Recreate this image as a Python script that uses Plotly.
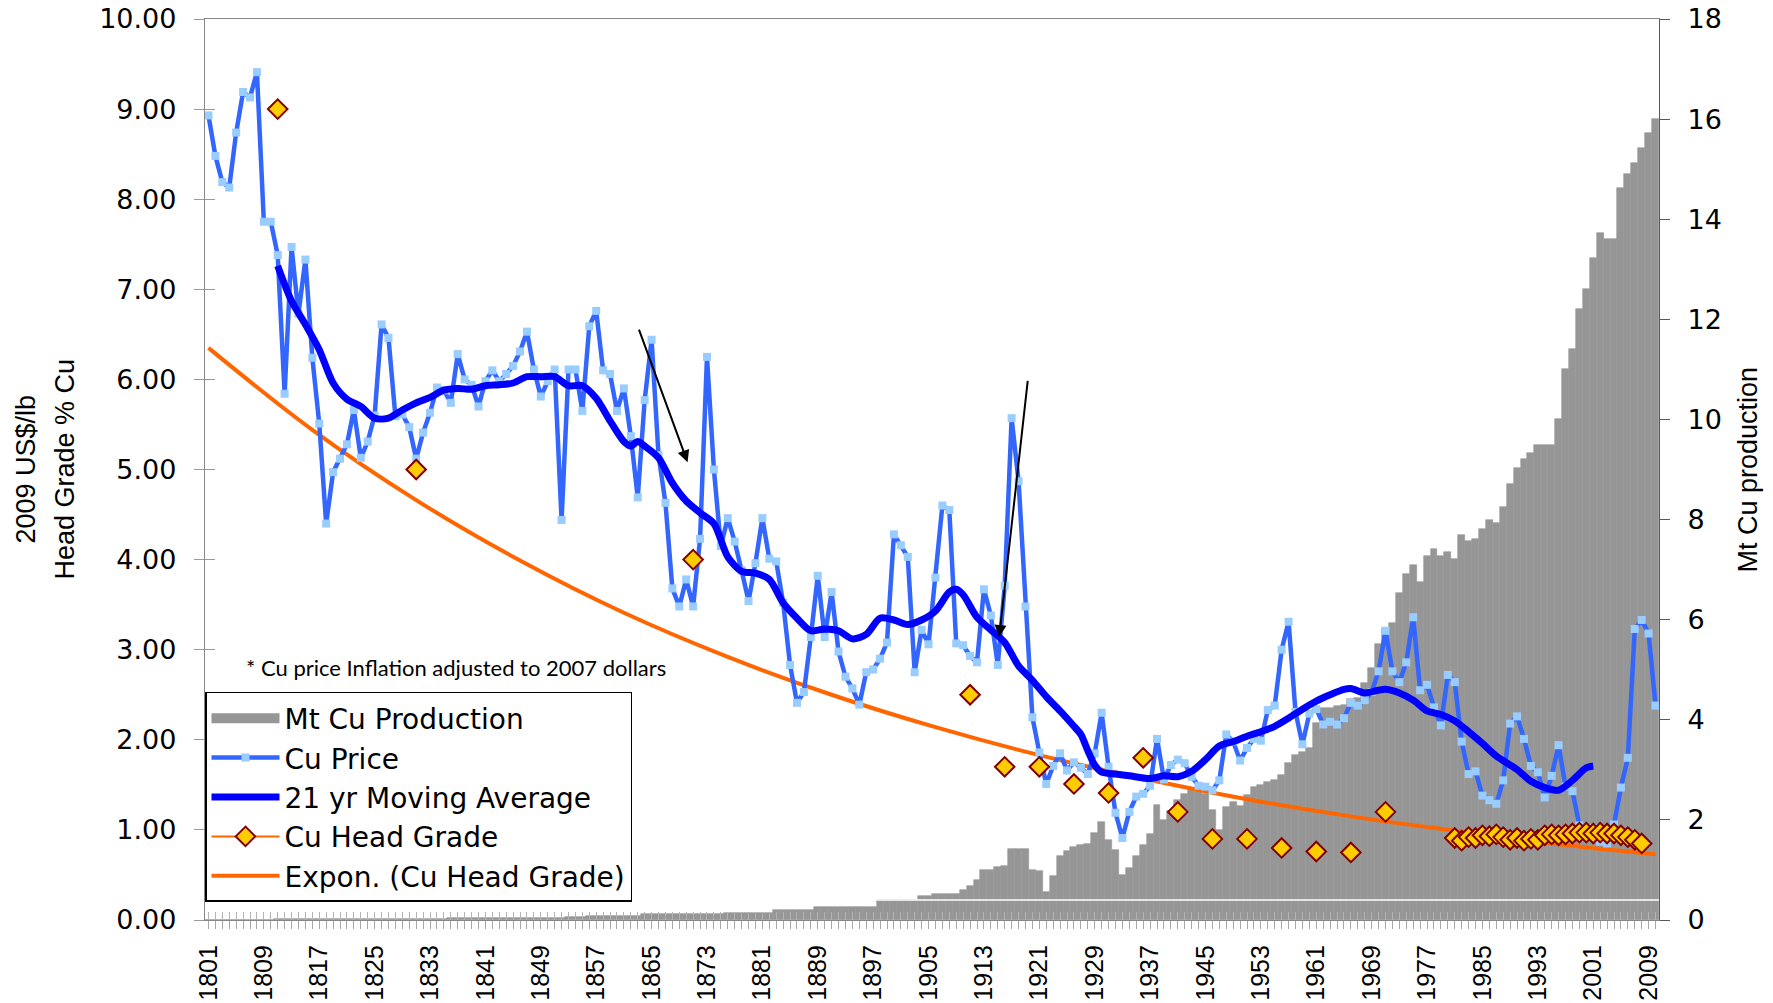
import plotly.graph_objects as go

# ---------------- data ----------------
years = list(range(1801, 2011))

production_mt = [
    0.010, 0.010, 0.010, 0.010, 0.010, 0.010, 0.010, 0.010, 0.010, 0.010,   # 1801-1810
    0.012, 0.012, 0.012, 0.012, 0.012, 0.012, 0.012, 0.012, 0.012, 0.012,   # 1811-1820
    0.020, 0.020, 0.020, 0.020, 0.020, 0.020, 0.020, 0.020, 0.020, 0.020,   # 1821-1830
    0.020, 0.020, 0.020, 0.020, 0.020, 0.045, 0.045, 0.045, 0.045, 0.045,   # 1831-1840
    0.045, 0.045, 0.045, 0.045, 0.045, 0.045, 0.045, 0.045, 0.045, 0.045,   # 1841-1850
    0.045, 0.045, 0.067, 0.067, 0.067, 0.087, 0.087, 0.087, 0.087, 0.087,   # 1851-1860
    0.087, 0.087, 0.087, 0.120, 0.120, 0.120, 0.120, 0.120, 0.120, 0.120,   # 1861-1870
    0.120, 0.120, 0.120, 0.120, 0.120, 0.147, 0.147, 0.147, 0.147, 0.147,   # 1871-1880
    0.147, 0.147, 0.190, 0.190, 0.190, 0.190, 0.190, 0.190, 0.250, 0.250,   # 1881-1890
    0.250, 0.250, 0.250, 0.250, 0.250, 0.250, 0.250, 0.400, 0.400, 0.400,   # 1891-1900
    0.400, 0.400, 0.400, 0.480, 0.480, 0.520, 0.520, 0.520, 0.520, 0.600,   # 1901-1910
    0.670, 0.800, 0.990, 0.990, 1.050, 1.070, 1.420, 1.420, 1.420, 0.990,   # 1911-1920
    0.970, 0.550, 0.880, 1.270, 1.370, 1.450, 1.500, 1.520, 1.730, 1.950,   # 1921-1930
    1.600, 1.400, 0.900, 1.030, 1.280, 1.500, 1.720, 2.300, 2.000, 2.180,   # 1931-1940
    2.400, 2.520, 2.600, 2.650, 2.520, 2.200, 1.800, 2.250, 2.350, 2.280,   # 1941-1950
    2.500, 2.650, 2.700, 2.750, 2.800, 2.900, 3.130, 3.300, 3.350, 3.430,   # 1951-1960
    3.930, 4.230, 4.230, 4.270, 4.300, 4.410, 4.430, 4.730, 5.030, 5.520,   # 1961-1970
    5.830, 5.930, 6.530, 6.920, 7.100, 6.750, 7.270, 7.410, 7.280, 7.350,   # 1971-1980
    7.210, 7.700, 7.580, 7.610, 7.810, 8.000, 7.930, 8.250, 8.720, 9.030,   # 1981-1990
    9.200, 9.330, 9.480, 9.490, 9.490, 10.00, 11.00, 11.40, 12.20, 12.60,   # 1991-2000
    13.22, 13.72, 13.60, 13.60, 14.62, 14.91, 15.12, 15.42, 15.72, 16.01,   # 2001-2010
]

cu_price = [
    8.93, 8.48, 8.19, 8.13, 8.74, 9.19, 9.13, 9.41, 7.75, 7.75,   # 1801-1810
    7.38, 5.84, 7.47, 6.73, 7.33, 6.24, 5.51, 4.40, 4.97, 5.12,   # 1811-1820
    5.28, 5.66, 5.13, 5.31, 5.60, 6.61, 6.46, 5.59, 5.61, 5.47,   # 1821-1830
    5.12, 5.41, 5.63, 5.91, 5.88, 5.74, 6.28, 6.00, 5.94, 5.70,   # 1831-1840
    5.98, 6.10, 5.98, 6.06, 6.15, 6.31, 6.53, 6.11, 5.81, 5.98,   # 1841-1850
    6.11, 4.44, 6.11, 6.11, 5.65, 6.59, 6.76, 6.10, 6.06, 5.65,   # 1851-1860
    5.90, 5.37, 4.69, 5.77, 6.44, 5.16, 4.63, 3.68, 3.48, 3.78,   # 1861-1870
    3.48, 4.23, 6.25, 5.00, 4.15, 4.46, 4.20, 3.88, 3.54, 3.96,   # 1871-1880
    4.46, 4.01, 3.98, 3.52, 2.83, 2.41, 2.53, 3.14, 3.82, 3.14,   # 1881-1890
    3.64, 2.98, 2.70, 2.57, 2.39, 2.75, 2.78, 2.90, 3.08, 4.28,   # 1891-1900
    4.16, 4.03, 2.75, 3.22, 3.06, 3.80, 4.60, 4.55, 3.07, 3.05,   # 1901-1910
    2.93, 2.86, 3.67, 3.38, 2.83, 3.71, 5.57, 4.87, 3.48, 2.25,   # 1911-1920
    1.86, 1.51, 1.71, 1.85, 1.66, 1.75, 1.69, 1.62, 1.85, 2.30,   # 1921-1930
    1.70, 1.19, 0.91, 1.20, 1.37, 1.40, 1.49, 2.01, 1.56, 1.72,   # 1931-1940
    1.78, 1.74, 1.59, 1.49, 1.48, 1.44, 1.55, 2.06, 1.98, 1.77,   # 1941-1950
    1.91, 2.01, 1.99, 2.33, 2.38, 3.00, 3.31, 2.31, 1.95, 2.29,   # 1951-1960
    2.34, 2.17, 2.20, 2.17, 2.24, 2.41, 2.38, 2.44, 2.53, 2.76,   # 1961-1970
    3.21, 2.76, 2.64, 2.86, 3.36, 2.55, 2.61, 2.36, 2.16, 2.72,   # 1971-1980
    2.64, 1.98, 1.62, 1.65, 1.38, 1.33, 1.29, 1.55, 2.18, 2.26,   # 1981-1990
    2.01, 1.71, 1.64, 1.36, 1.60, 1.94, 1.48, 1.43, 1.05, 1.02,   # 1991-2000
    1.02, 0.87, 0.85, 1.06, 1.47, 1.80, 3.23, 3.33, 3.18, 2.38,   # 2001-2010
]

ma_years = [1811, 1813, 1815, 1817, 1819, 1821, 1823, 1825, 1827, 1829,
            1831, 1833, 1835, 1837, 1839, 1841, 1843, 1845, 1847, 1849,
            1851, 1853, 1855, 1857, 1859, 1861, 1862, 1863, 1864, 1866,
            1868, 1870, 1872, 1874, 1876, 1878, 1880, 1882, 1884, 1886,
            1888, 1890, 1892, 1894, 1896, 1898, 1900, 1902, 1904, 1906,
            1908, 1909, 1910, 1912, 1914, 1916, 1918, 1920, 1922, 1924,
            1926, 1927, 1928, 1929, 1930, 1932, 1934, 1937, 1939, 1941,
            1943, 1945, 1947, 1949, 1951, 1953, 1955, 1957, 1959, 1961,
            1963, 1965, 1966, 1968, 1970, 1971, 1973, 1975, 1977, 1979,
            1981, 1983, 1985, 1987, 1990, 1992, 1994, 1996, 1998, 2000, 2001]
ma_values = [7.26, 6.87, 6.61, 6.33, 5.96, 5.78, 5.70, 5.57, 5.57, 5.66,
             5.74, 5.80, 5.88, 5.90, 5.89, 5.93, 5.94, 5.96, 6.03, 6.03,
             6.03, 5.93, 5.93, 5.79, 5.54, 5.31, 5.26, 5.31, 5.26, 5.13,
             4.85, 4.65, 4.52, 4.40, 4.03, 3.87, 3.85, 3.78, 3.52, 3.35,
             3.21, 3.23, 3.21, 3.12, 3.17, 3.35, 3.33, 3.28, 3.33, 3.43,
             3.64, 3.67, 3.61, 3.36, 3.22, 3.08, 2.82, 2.66, 2.48, 2.32,
             2.15, 2.06, 1.88, 1.72, 1.64, 1.62, 1.60, 1.57, 1.60, 1.59,
             1.65, 1.78, 1.93, 1.98, 2.04, 2.09, 2.15, 2.24, 2.34, 2.43,
             2.50, 2.56, 2.57, 2.52, 2.55, 2.56, 2.52, 2.44, 2.32, 2.28,
             2.21, 2.09, 1.96, 1.82, 1.67, 1.54, 1.47, 1.44, 1.55, 1.69, 1.71]

grade_years = [1811, 1831, 1871, 1911, 1916, 1921, 1926, 1931, 1936, 1941,
               1946, 1951, 1956, 1961, 1966, 1971,
               1981, 1982, 1983, 1984, 1985, 1986, 1987, 1988, 1989, 1990,
               1991, 1992, 1993, 1994, 1995, 1996, 1997, 1998, 1999, 2000,
               2001, 2002, 2003, 2004, 2005, 2006, 2007, 2008]
grade_values = [9.00, 5.00, 4.00, 2.50, 1.70, 1.70, 1.51, 1.41, 1.80, 1.20,
                0.90, 0.90, 0.80, 0.76, 0.75, 1.20,
                0.91, 0.88, 0.92, 0.91, 0.94, 0.93, 0.95, 0.92, 0.89, 0.91,
                0.88, 0.90, 0.89, 0.94, 0.95, 0.94, 0.95, 0.96, 0.97, 0.97,
                0.96, 0.97, 0.96, 0.96, 0.94, 0.92, 0.89, 0.85]

trend_years = [1801, 1816, 1831, 1846, 1861, 1876, 1891, 1906,
               1921, 1936, 1951, 1966, 1981, 1996, 2010]
trend_values = [6.35, 5.44, 4.66, 3.99, 3.41, 2.92, 2.50, 2.14,
                1.83, 1.57, 1.34, 1.15, 0.99, 0.84, 0.73]

# ---------------- styles ----------------
GRAY_BAR = "#969696"
PRICE_LINE = "#3366FF"
PRICE_MARK = "#99CCFF"
MA_LINE = "#0000FF"
ORANGE = "#FF6600"
DIAMOND_FILL = "#FFCC00"
DIAMOND_EDGE = "#800000"
AXIS_GRAY = "#868686"
TICK_FONT = dict(family="DejaVu Sans", size=27, color="black")
TITLE_FONT = dict(family="Liberation Sans, Arial, sans-serif", size=27, color="black")

fig = go.Figure()

# production bars (main subplot, right-hand axis) -> drawn underneath
fig.add_trace(go.Bar(
    x=years, y=production_mt, name="Mt Cu Production", xaxis="x", yaxis="y",
    marker=dict(color=GRAY_BAR, line=dict(color=GRAY_BAR, width=0.6)),
    showlegend=False, hoverinfo="x+y"))

# legend entry for bars (wide grey swatch)
fig.add_trace(go.Scatter(
    x=[None], y=[None], mode="lines", name="Mt Cu Production", yaxis="y2",
    line=dict(color=GRAY_BAR, width=16), legendrank=1, hoverinfo="skip"))

# exponential trend of head grade
fig.add_trace(go.Scatter(
    x=trend_years, y=trend_values, mode="lines", name="Expon. (Cu Head Grade)",
    yaxis="y2", line=dict(color=ORANGE, width=4, shape="spline", smoothing=1.0),
    legendrank=5))

# copper price
fig.add_trace(go.Scatter(
    x=years, y=cu_price, mode="lines+markers", name="Cu Price", yaxis="y2",
    line=dict(color=PRICE_LINE, width=4.5),
    marker=dict(symbol="square", size=8, color=PRICE_MARK, line=dict(width=0)),
    legendrank=2))

# 21 year moving average
fig.add_trace(go.Scatter(
    x=ma_years, y=ma_values, mode="lines", name="21 yr Moving Average", yaxis="y2",
    line=dict(color=MA_LINE, width=7, shape="spline", smoothing=0.8),
    legendrank=3))

# head grade points
fig.add_trace(go.Scatter(
    x=grade_years, y=grade_values, mode="markers", name="Cu Head Grade", yaxis="y2",
    marker=dict(symbol="diamond", size=15, color=DIAMOND_FILL,
                line=dict(color=DIAMOND_EDGE, width=2)),
    showlegend=False))
fig.add_trace(go.Scatter(
    x=[None], y=[None], mode="lines+markers", name="Cu Head Grade", yaxis="y2",
    line=dict(color=ORANGE, width=2),
    marker=dict(symbol="diamond", size=15, color=DIAMOND_FILL,
                line=dict(color=DIAMOND_EDGE, width=2)),
    legendrank=4, hoverinfo="skip"))

# helper (empty) traces so the tick-only overlay axes are drawn
fig.add_trace(go.Scatter(x=[None], y=[None], xaxis="x2", yaxis="y",
                         showlegend=False, hoverinfo="skip"))
fig.add_trace(go.Scatter(x=[None], y=[None], xaxis="x", yaxis="y3",
                         showlegend=False, hoverinfo="skip"))

XRANGE = [1800.5, 2010.5]

fig.update_layout(
    width=1773, height=1003,
    margin=dict(l=205, r=114, t=19, b=83, pad=0),
    paper_bgcolor="white", plot_bgcolor="white",
    font=dict(family="Liberation Sans, Arial, sans-serif", size=26, color="black"),
    bargap=0, barmode="overlay",
    showlegend=True,
    legend=dict(x=0, y=0.02, xanchor="left", yanchor="bottom",
                bgcolor="white", bordercolor="black", borderwidth=1.5,
                font=dict(family="DejaVu Sans", size=28, color="black"),
                itemwidth=68, traceorder="normal", tracegroupgap=0),
    xaxis=dict(type="linear", range=XRANGE, tick0=1801, dtick=8,
               ticks="outside", ticklen=8, tickwidth=1, tickcolor="#a8a8a8",
               tickangle=-90, tickfont=dict(family="Liberation Sans, Arial", size=25, color="black"),
               ticklabelstandoff=6,
               minor=dict(tick0=1801, dtick=1, ticks="outside", ticklen=8,
                          tickwidth=1, tickcolor="#a8a8a8", showgrid=False),
               showline=True, linecolor=AXIS_GRAY, linewidth=1.3, mirror=True,
               showgrid=False, zeroline=False, automargin=False),
    xaxis2=dict(type="linear", range=XRANGE, overlaying="x", anchor="y", side="bottom",
                tick0=1801, dtick=1, ticks="inside", ticklen=8, tickwidth=1,
                tickcolor="#b4b4b4", showticklabels=False, showline=False,
                showgrid=False, zeroline=False, automargin=False),
    yaxis=dict(range=[0, 18], dtick=2, side="right", anchor="x",
               ticks="outside", ticklen=10, tickwidth=1.2, tickcolor="#595959",
               tickfont=TICK_FONT, ticklabelstandoff=12,
               showline=True, linecolor="#595959", linewidth=1.3,
               showgrid=False, zeroline=False, automargin=False),
    yaxis2=dict(range=[0, 10], dtick=1, tickformat=".2f", side="left",
                overlaying="y", anchor="x",
                ticks="outside", ticklen=10, tickwidth=1.2, tickcolor="#9a9a9a",
                tickfont=TICK_FONT, ticklabelstandoff=12,
                showline=True, linecolor=AXIS_GRAY, linewidth=1.3,
                showgrid=False, zeroline=False, automargin=False),
    yaxis3=dict(range=[0, 10], dtick=1, side="left", overlaying="y", anchor="x",
                ticks="inside", ticklen=10, tickwidth=1.2, tickcolor="#9a9a9a",
                showticklabels=False, showline=False, showgrid=False,
                zeroline=False, automargin=False),
)

# thin white rule across the production bars
fig.add_shape(type="line", xref="paper", x0=0, x1=1, yref="y", y0=0.4, y1=0.4,
              line=dict(color="white", width=1.5), layer="above")

annotations = [
    dict(text="2009 US$/lb", xref="paper", yref="paper", x=(25 - 205) / 1454, y=0.5,
         textangle=-90, showarrow=False, xanchor="center", yanchor="middle", font=TITLE_FONT),
    dict(text="Head Grade % Cu", xref="paper", yref="paper", x=(64 - 205) / 1454, y=0.5,
         textangle=-90, showarrow=False, xanchor="center", yanchor="middle", font=TITLE_FONT),
    dict(text="Mt Cu production", xref="paper", yref="paper", x=(1747 - 205) / 1454, y=0.5,
         textangle=-90, showarrow=False, xanchor="center", yanchor="middle", font=TITLE_FONT),
    dict(text="* Cu price Inflation adjusted to 2007 dollars", xref="paper", yref="paper",
         x=(244 - 205) / 1454, y=(920 - 667) / 901, xanchor="left", yanchor="middle",
         showarrow=False, font=dict(family="Lato, Carlito, sans-serif", size=22, color="black")),
    dict(text="", x=1870.2, y=5.08, ax=1863.1, ay=6.57, xref="x", yref="y2",
         axref="x", ayref="y2", showarrow=True, arrowhead=2, arrowsize=1.2,
         arrowwidth=2, arrowcolor="black", standoff=0),
    dict(text="", x=1915.2, y=3.14, ax=1919.35, ay=6.0, xref="x", yref="y2",
         axref="x", ayref="y2", showarrow=True, arrowhead=2, arrowsize=1.2,
         arrowwidth=2, arrowcolor="black", standoff=0),
]
fig.update_layout(annotations=annotations)

fig.write_html("out.html",
               config={"displayModeBar": False},
               post_script="document.body.style.margin='0';document.body.style.overflow='hidden';")
